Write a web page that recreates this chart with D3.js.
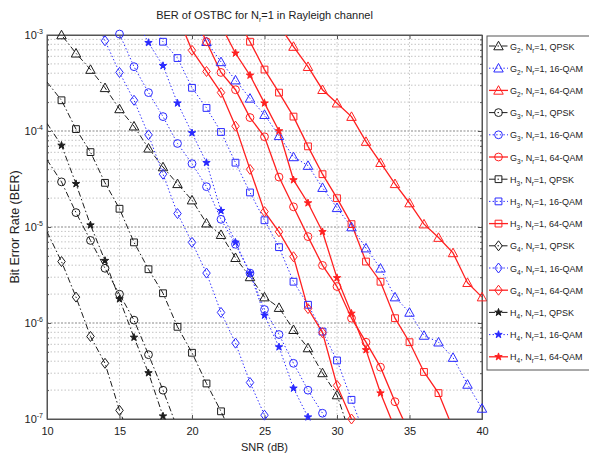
<!DOCTYPE html>
<html>
<head>
<meta charset="utf-8">
<script src="https://cdn.jsdelivr.net/npm/d3@7"></script>
<style>
  body { margin: 0; background: #fff; }
  text { font-family: "Liberation Sans", Arial, sans-serif; }
</style>
</head>
<body>
<div id="chart"></div>
<script>
/////////////////////////////////////
///      DATA
/////////////////////////////////////
var snrTicks = [10, 15, 20, 25, 30, 35, 40];
var berTicks = [1e-3, 1e-4, 1e-5, 1e-6, 1e-7];

var codeNames = ["2", "2", "2", "3", "3", "3", "3", "3", "3", "4", "4", "4", "4", "4", "4"];
var codeLetters = ["G", "G", "G", "G", "G", "G", "H", "H", "H", "G", "G", "G", "H", "H", "H"];
var modNames = ["QPSK", "16-QAM", "64-QAM"];

// first SNR (dB) of every series, points follow in 1 dB steps
var firstSnr = [10, 20, 26, 10, 14, 20, 10, 17, 23, 10, 13, 19, 10, 16, 22];

// log10(BER) of every series, in legend order
var g2Qpsk = [-2.82, -3.0, -3.19, -3.36, -3.55, -3.77, -3.95, -4.18, -4.375, -4.55, -4.72, -4.96, -5.08, -5.32, -5.52, -5.73, -5.84, -6.07, -6.26, -6.52, -6.75, -7.2];
var g2Qam16 = [-2.88, -3.07, -3.28, -3.47, -3.66, -3.83, -4.05, -4.27, -4.36, -4.59, -4.8, -5.0, -5.22, -5.43, -5.73, -5.89, -6.13, -6.2, -6.36, -6.64, -6.89];
var g2Qam64 = [-2.9, -3.12, -3.33, -3.57, -3.71, -3.85, -4.11, -4.33, -4.55, -4.75, -4.97, -5.11, -5.27, -5.58, -5.73];
var g3Qpsk = [-4.3, -4.53, -4.85, -5.14, -5.43, -5.7, -5.97, -6.33, -6.7, -7.1];
var g3Qam16 = [-2.7, -2.99, -3.33, -3.6, -3.85, -4.13, -4.34, -4.58, -4.92, -5.18, -5.48, -5.86, -6.12, -6.42, -6.7, -6.94, -7.25];
var g3Qam64 = [-2.75, -3.07, -3.39, -3.57, -3.86, -4.06, -4.48, -4.79, -5.1, -5.4, -5.62, -5.95, -6.2, -6.46, -6.82, -7.15];
var h3Qpsk = [-3.49, -3.68, -3.98, -4.22, -4.54, -4.81, -5.16, -5.44, -5.69, -6.04, -6.31, -6.63, -6.92, -7.25];
var h3Qam16 = [-2.8, -3.07, -3.24, -3.55, -3.76, -4.01, -4.33, -4.64, -4.93, -5.21, -5.57, -5.81, -6.09, -6.39, -6.8, -7.2];
var h3Qam64 = [-2.8, -3.07, -3.36, -3.6, -3.85, -4.16, -4.45, -4.7, -4.97, -5.36, -5.57, -5.95, -6.2, -6.51, -6.73, -7.1];
var g4Qpsk = [-5.05, -5.36, -5.73, -6.14, -6.42, -6.91, -7.3];
var g4Qam16 = [-2.7, -3.06, -3.39, -3.68, -4.04, -4.45, -4.86, -5.16, -5.48, -5.89, -6.21, -6.62, -6.96, -7.35];
var g4Qam64 = [-2.8, -3.16, -3.38, -3.6, -3.95, -4.4, -4.84, -5.05, -5.31, -5.85, -6.1, -6.65, -7.0, -7.35];
var h4Qpsk = [-3.92, -4.15, -4.55, -4.98, -5.35, -5.75, -6.15, -6.52, -6.97, -7.4];
var h4Qam16 = [-2.8, -3.08, -3.32, -3.71, -4.02, -4.33, -4.83, -5.16, -5.48, -5.92, -6.25, -6.68, -6.98, -7.3];
var h4Qam64 = [-2.9, -3.19, -3.42, -3.71, -4.0, -4.51, -4.75, -5.05, -5.53, -5.9, -6.28, -6.73, -7.1];

var allSeries = [g2Qpsk, g2Qam16, g2Qam64, g3Qpsk, g3Qam16, g3Qam64, h3Qpsk, h3Qam16, h3Qam64,
                 g4Qpsk, g4Qam16, g4Qam64, h4Qpsk, h4Qam16, h4Qam64];

/////////////////////////////////////
///      STYLE
/////////////////////////////////////
var modColor = ["#1c1c1c", "#2a2aff", "#ff2020"];
var modDash = ["6,2.5,1.5,2.5", "1.4,2.2", null];
var modWidth = [1, 1, 1.3];

// custom marker shapes (MATLAB-like)
var symTriangle = { draw: function(c, s) { var r = Math.sqrt(s) / 2; c.moveTo(0, -r); c.lineTo(r, r * 0.8); c.lineTo(-r, r * 0.8); c.closePath(); } };
var symDiamond = { draw: function(c, s) { var r = Math.sqrt(s) / 2; c.moveTo(0, -r); c.lineTo(r * 0.75, 0); c.lineTo(0, r); c.lineTo(-r * 0.75, 0); c.closePath(); } };
var markerType = { G2: symTriangle, G3: d3.symbolCircle, H3: d3.symbolSquare, G4: symDiamond, H4: d3.symbolStar };
var markerSize = { G2: 90, G3: 48, H3: 46, G4: 100, H4: 17 };

/////////////////////////////////////
///      CHART
/////////////////////////////////////
var W = 589, H = 455;
var L = 47, R = 482, T = 35, B = 419;

var svg = d3.select("#chart").append("svg")
  .attr("width", W).attr("height", H);

var x = d3.scaleLinear().domain([10, 40]).range([L, R]);
var y = d3.scaleLog().domain([1e-7, 1e-3]).range([B, T]);

// grid
var minorVals = [];
[1e-7, 1e-6, 1e-5, 1e-4].forEach(function(dec) {
  for (var k = 2; k <= 9; k++) minorVals.push(k * dec);
});
var grid = svg.append("g");
grid.selectAll("line.minor").data(minorVals).enter().append("line")
  .attr("x1", L).attr("x2", R)
  .attr("y1", function(d){ return y(d); }).attr("y2", function(d){ return y(d); })
  .attr("stroke", "#c4c4c4").attr("stroke-width", 1).attr("stroke-dasharray", "1.5,2");
grid.selectAll("line.major").data(berTicks.slice(1, 4)).enter().append("line")
  .attr("x1", L).attr("x2", R)
  .attr("y1", function(d){ return y(d); }).attr("y2", function(d){ return y(d); })
  .attr("stroke", "#b0b0b0").attr("stroke-width", 1.6).attr("stroke-dasharray", "2,1.5");
grid.selectAll("line.vert").data(snrTicks.slice(1, 6)).enter().append("line")
  .attr("y1", T).attr("y2", B)
  .attr("x1", function(d){ return x(d); }).attr("x2", function(d){ return x(d); })
  .attr("stroke", "#c8c8c8").attr("stroke-width", 1).attr("stroke-dasharray", "1.5,2");

// axes, ticks inside like MATLAB
var axX = svg.append("g").attr("transform", "translate(0," + B + ")")
  .call(d3.axisBottom(x).tickValues(snrTicks).tickSizeInner(-4).tickSizeOuter(0).tickPadding(8).tickFormat(d3.format("d")));
svg.append("g").attr("transform", "translate(0," + T + ")")
  .call(d3.axisTop(x).tickValues(snrTicks).tickSizeInner(-4).tickSizeOuter(0).tickFormat(""));
var axY = svg.append("g").attr("transform", "translate(" + L + ",0)")
  .call(d3.axisLeft(y).tickValues(berTicks).tickSizeInner(-4).tickSizeOuter(0).tickPadding(6).tickFormat(""));
svg.append("g").attr("transform", "translate(" + L + ",0)")
  .call(d3.axisLeft(y).tickValues(minorVals).tickSizeInner(-2).tickSizeOuter(0).tickFormat(""));
svg.append("g").attr("transform", "translate(" + R + ",0)")
  .call(d3.axisRight(y).tickValues(berTicks).tickSizeInner(-4).tickSizeOuter(0).tickFormat(""));
svg.append("g").attr("transform", "translate(" + R + ",0)")
  .call(d3.axisRight(y).tickValues(minorVals).tickSizeInner(-2).tickSizeOuter(0).tickFormat(""));
svg.selectAll(".domain").attr("stroke", "#555");
svg.selectAll(".tick line").attr("stroke", "#555");

axX.selectAll(".tick text").attr("font-size", 11).attr("fill", "#222");

// y labels 10^-n
axY.selectAll(".tick").each(function(d) {
  var t = d3.select(this).append("text")
    .attr("x", -4).attr("dy", "0.35em").attr("text-anchor", "end")
    .attr("fill", "#222").attr("font-size", 11);
  t.append("tspan").text("10");
  t.append("tspan").attr("dy", -5).attr("font-size", 7).text(Math.round(Math.log10(d)));
});

// frame
svg.append("rect").attr("x", L).attr("y", T).attr("width", R - L).attr("height", B - T)
  .attr("fill", "none").attr("stroke", "#555").attr("stroke-width", 1);

// curves
svg.append("clipPath").attr("id", "plotclip").append("rect")
  .attr("x", L).attr("y", T).attr("width", R - L).attr("height", B - T);

var line = d3.line()
  .x(function(d){ return x(d.snr); })
  .y(function(d){ return y(d.ber); });

var series = allSeries.map(function(arr, i) {
  return {
    code: codeLetters[i] + codeNames[i],
    mod: i % 3,
    pts: arr.map(function(e, j) { return { snr: firstSnr[i] + j, ber: Math.pow(10, e) }; })
  };
});

var curves = svg.append("g");
series.forEach(function(s) {
  curves.append("path")
    .datum(s.pts)
    .attr("clip-path", "url(#plotclip)")
    .attr("d", line)
    .attr("fill", "none")
    .attr("stroke", modColor[s.mod])
    .attr("stroke-width", modWidth[s.mod])
    .attr("stroke-dasharray", modDash[s.mod]);
});
series.forEach(function(s) {
  var inside = s.pts.filter(function(p) {
    return p.snr > 10 && p.snr <= 40 && p.ber <= 1.1e-3 && p.ber >= 0.92e-7;
  });
  curves.selectAll(null).data(inside).enter().append("path")
    .attr("transform", function(p){ return "translate(" + x(p.snr) + "," + y(p.ber) + ")"; })
    .attr("d", d3.symbol().type(markerType[s.code]).size(markerSize[s.code]))
    .attr("fill", s.code === "H4" ? modColor[s.mod] : "none")
    .attr("stroke", modColor[s.mod])
    .attr("stroke-width", 1);
});

// titles
svg.append("text").attr("x", (L + R) / 2).attr("y", 19).attr("text-anchor", "middle")
  .attr("font-size", 11).attr("fill", "#222")
  .call(function(t) {
    t.append("tspan").text("BER of OSTBC for N");
    t.append("tspan").attr("dy", 3).attr("font-size", 7).text("r");
    t.append("tspan").attr("dy", -3).text("=1 in Rayleigh channel");
  });
svg.append("text").attr("x", (L + R) / 2).attr("y", 451).attr("text-anchor", "middle")
  .attr("font-size", 11).attr("fill", "#222").text("SNR (dB)");
svg.append("text").attr("transform", "translate(19," + ((T + B) / 2) + ") rotate(-90)")
  .attr("text-anchor", "middle").attr("font-size", 12.5).attr("fill", "#222")
  .text("Bit Error Rate (BER)");

/////////////////////////////////////
///      LEGEND
/////////////////////////////////////
var legend = svg.append("g");
legend.append("rect").attr("x", 487).attr("y", 36).attr("width", 120).attr("height", 334)
  .attr("fill", "#fff").attr("stroke", "#555");
series.forEach(function(s, i) {
  var g = legend.append("g").attr("transform", "translate(0," + (46 + i * 22.2) + ")");
  g.append("line").attr("x1", 489).attr("x2", 508).attr("y1", 0).attr("y2", 0)
    .attr("stroke", modColor[s.mod]).attr("stroke-width", modWidth[s.mod])
    .attr("stroke-dasharray", modDash[s.mod]);
  g.append("path").attr("transform", "translate(498.5,0)")
    .attr("d", d3.symbol().type(markerType[s.code]).size(markerSize[s.code]))
    .attr("fill", s.code === "H4" ? modColor[s.mod] : "none")
    .attr("stroke", modColor[s.mod]).attr("stroke-width", 1);
  var t = g.append("text").attr("x", 510).attr("y", 3.5).attr("font-size", 9).attr("fill", "#222");
  t.append("tspan").text(codeLetters[i]);
  t.append("tspan").attr("dy", 3).attr("font-size", 6.5).text(codeNames[i]);
  t.append("tspan").attr("dy", -3).text(", N");
  t.append("tspan").attr("dy", 3).attr("font-size", 6.5).text("r");
  t.append("tspan").attr("dy", -3).text("=1, " + modNames[s.mod]);
});
</script>
</body>
</html>
